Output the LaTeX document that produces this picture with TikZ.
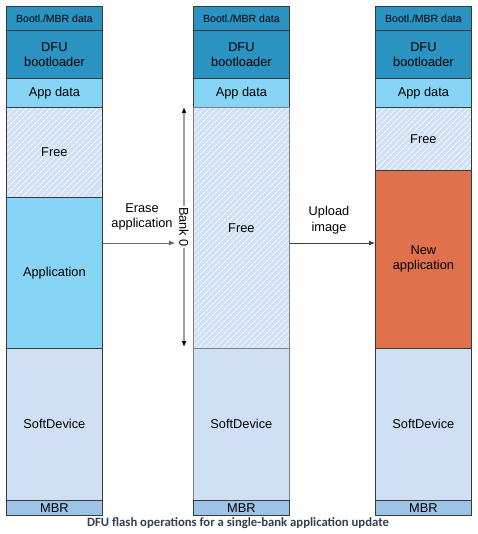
\documentclass[tikz,border=0pt]{standalone}
\usepackage{fontspec}
\setmainfont{Liberation Sans}
\newfontfamily\capfont{Carlito}
\usetikzlibrary{arrows.meta,patterns.meta}
\definecolor{bootblue}{HTML}{2A93C2}
\definecolor{appblue}{HTML}{87D5F6}
\definecolor{freeblue}{HTML}{D0E1F5}
\definecolor{sdblue}{HTML}{CFE0F4}
\definecolor{mbrblue}{HTML}{9DC3E7}
\definecolor{newred}{HTML}{E0714D}
\definecolor{edge}{HTML}{3A3A3A}
\definecolor{captext}{HTML}{333F50}
\tikzset{
  blk/.style={draw=edge, line width=0.8pt, anchor=north west, minimum width=96pt, inner sep=0pt, align=center, font=\fontsize{12.8}{15}\selectfont},
  small/.style={font=\fontsize{10.5}{12}\selectfont},
  freeblk/.style={blk, preaction={fill=freeblue}, preaction={pattern={Lines[angle=45,distance=4pt,line width=1pt]}, pattern color=white!80!freeblue}},
  conn/.style={draw=gray!80!black, line width=0.8pt, -{Latex[length=6pt,width=5pt]}},
  lbl/.style={align=center, font=\fontsize{12.8}{15.5}\selectfont, inner sep=0pt}
}
\begin{document}
\begin{tikzpicture}[x=1pt,y=-1pt]
\useasboundingbox (0,0) rectangle (477,534);
% Column 1
\node[blk, small, fill=bootblue, minimum height=24pt] (boot1) at (6,6) {Bootl./MBR data};
\node[blk, fill=bootblue, minimum height=48pt] (dfu1) at (6,30) {DFU\\bootloader};
\node[blk, fill=appblue, minimum height=29pt] (ad1) at (6,78) {App data};
\node[freeblk, minimum height=90pt] (free1) at (6,107) {Free};
\node[blk, fill=appblue, minimum height=151pt] (app1) at (6,197) {Application};
\node[blk, fill=sdblue, minimum height=152pt] (sd1) at (6,348) {SoftDevice};
\node[blk, fill=mbrblue, minimum height=15pt] (mbr1) at (6,500) {MBR};
% Column 2
\node[blk, small, fill=bootblue, minimum height=24pt] (boot2) at (193,6) {Bootl./MBR data};
\node[blk, fill=bootblue, minimum height=48pt] (dfu2) at (193,30) {DFU\\bootloader};
\node[blk, fill=appblue, minimum height=29pt] (ad2) at (193,78) {App data};
\node[freeblk, draw=gray, minimum height=241pt] (free2) at (193,107) {Free};
\node[blk, fill=sdblue, draw=gray, minimum height=152pt] (sd2) at (193,348) {SoftDevice};
\node[blk, fill=mbrblue, minimum height=15pt] (mbr2) at (193,500) {MBR};
% Column 3
\node[blk, small, fill=bootblue, minimum height=24pt] (boot3) at (375,6) {Bootl./MBR data};
\node[blk, fill=bootblue, minimum height=48pt] (dfu3) at (375,30) {DFU\\bootloader};
\node[blk, fill=appblue, minimum height=29pt] (ad3) at (375,78) {App data};
\node[freeblk, minimum height=63pt] (free3) at (375,107) {Free};
\node[blk, fill=newred, minimum height=178pt] (new3) at (375,170) {New\\application};
\node[blk, fill=sdblue, minimum height=152pt] (sd3) at (375,348) {SoftDevice};
\node[blk, fill=mbrblue, minimum height=15pt] (mbr3) at (375,500) {MBR};
% Connectors
\coordinate (arrowy) at (0,243);
\coordinate (erasetip) at (175,243);
\draw[conn] (app1.east |- arrowy) -- (erasetip);
\draw[conn, draw=black!75] (free2.east |- arrowy) -- (new3.west |- arrowy);
\coordinate (banktop) at (184,107);
\coordinate (bankbot) at (184,347);
\draw[draw=gray!75, line width=1.4pt, {Latex[length=6pt,width=5pt,color=black]}-{Latex[length=6pt,width=5pt,color=black]}] (banktop) -- (bankbot)
  node[midway, rotate=-90, fill=white, inner sep=1pt, font=\fontsize{12.8}{15}\selectfont] (bank) {Bank 0};
\node[lbl] (erase) at (142,217) {Erase\\application};
\node[lbl] (upload) at (329,220) {Upload\\image};
\node[font=\capfont\bfseries\fontsize{12.7}{15}\selectfont, text=captext] (cap) at (238,523) {DFU flash operations for a single-bank application update};
\end{tikzpicture}
\end{document}
